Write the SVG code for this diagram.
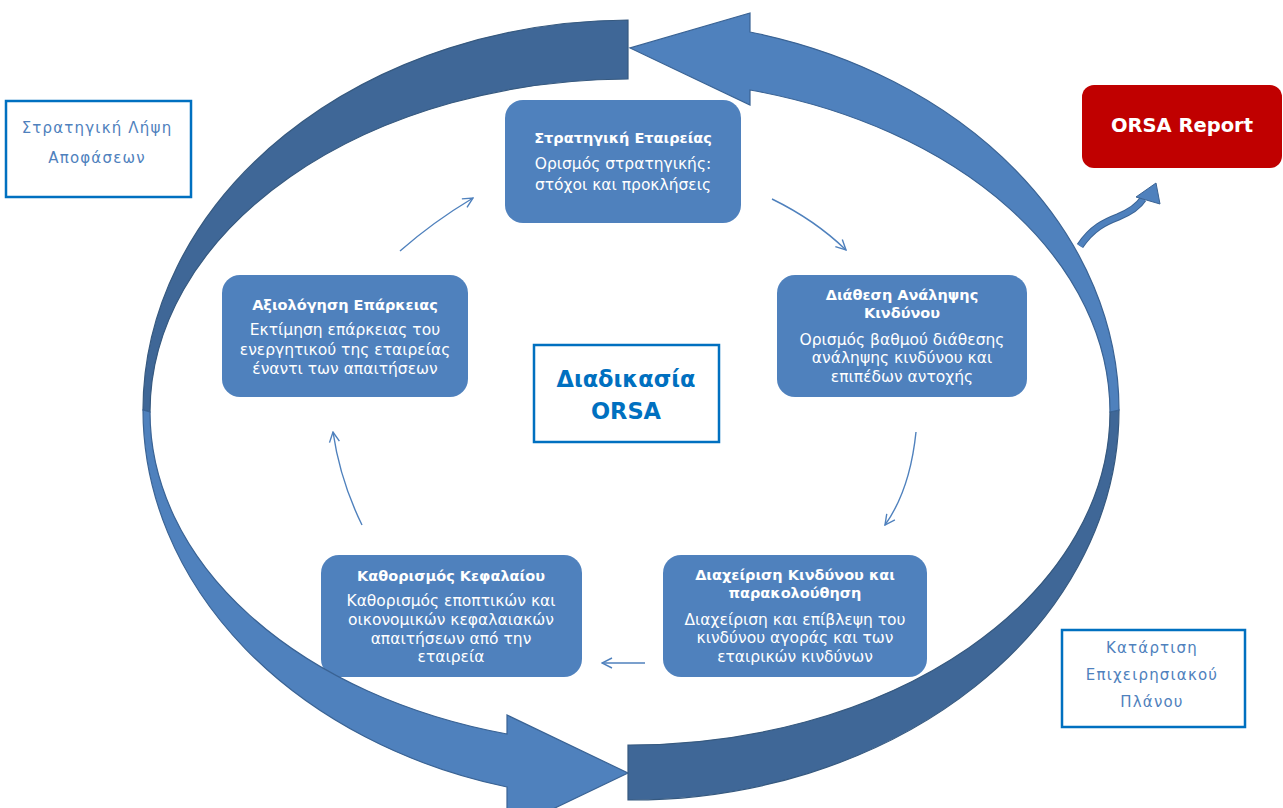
<svg xmlns="http://www.w3.org/2000/svg" width="1283" height="808" viewBox="0 0 1283 808">
<style>
.node{fill:#4f81bd;}
.t{font-family:"DejaVu Sans","Liberation Sans",sans-serif;fill:#ffffff;text-anchor:middle;}
.tb{font-size:14.5px;font-weight:bold;}
.tr{font-size:15.5px;}
.side{fill:#ffffff;stroke:#0070c0;stroke-width:2.5;}
.st{font-family:"DejaVu Sans","Liberation Sans",sans-serif;fill:#4f81bd;text-anchor:middle;font-size:15px;letter-spacing:1.2px;}
.conn{fill:none;stroke:#4f81bd;stroke-width:1.4;}
.light{fill:#4f81bd;stroke:#3a6394;stroke-width:1.2;}
.dark{fill:#3f6797;stroke:#36597f;stroke-width:1.2;}
</style>
<defs>
<marker id="ah" viewBox="0 0 12 12" refX="11" refY="6" markerWidth="12" markerHeight="12" markerUnits="userSpaceOnUse" orient="auto">
<path d="M1,1 L11,6 L1,11" fill="none" stroke="#4f81bd" stroke-width="1.4"/>
</marker>
</defs>
<rect width="1283" height="808" fill="#ffffff"/>

<g id="node-strategy">
<rect class="node" x="505" y="100" width="236" height="123" rx="18"/>
<text class="t tb" x="623" y="143">Στρατηγική Εταιρείας</text>
<text class="t tr" x="623" y="169">Ορισμός στρατηγικής:</text>
<text class="t tr" x="623" y="190">στόχοι και προκλήσεις</text>
</g>
<g id="node-appetite">
<rect class="node" x="777" y="275" width="250" height="122" rx="18"/>
<text class="t tb" x="902" y="300">Διάθεση Ανάληψης</text>
<text class="t tb" x="902" y="318">Κινδύνου</text>
<text class="t tr" x="902" y="345">Ορισμός βαθμού διάθεσης</text>
<text class="t tr" x="902" y="363">ανάληψης κινδύνου και</text>
<text class="t tr" x="902" y="382">επιπέδων αντοχής</text>
</g>
<g id="node-riskmgmt">
<rect class="node" x="663" y="555" width="264" height="122" rx="18"/>
<text class="t tb" x="795" y="580">Διαχείριση Κινδύνου και</text>
<text class="t tb" x="795" y="598">παρακολούθηση</text>
<text class="t tr" x="795" y="625">Διαχείριση και επίβλεψη του</text>
<text class="t tr" x="795" y="643">κινδύνου αγοράς και των</text>
<text class="t tr" x="795" y="662">εταιρικών κινδύνων</text>
</g>
<g id="node-capital">
<rect class="node" x="321" y="555" width="261" height="122" rx="18"/>
<text class="t tb" x="451" y="581">Καθορισμός Κεφαλαίου</text>
<text class="t tr" x="451" y="606">Καθορισμός εποπτικών και</text>
<text class="t tr" x="451" y="625">οικονομικών κεφαλαιακών</text>
<text class="t tr" x="451" y="644">απαιτήσεων από την</text>
<text class="t tr" x="451" y="662">εταιρεία</text>
</g>
<g id="node-adequacy">
<rect class="node" x="222" y="275" width="246" height="122" rx="18"/>
<text class="t tb" x="345" y="310">Αξιολόγηση Επάρκειας</text>
<text class="t tr" x="345" y="335">Εκτίμηση επάρκειας του</text>
<text class="t tr" x="345" y="355">ενεργητικού της εταιρείας</text>
<text class="t tr" x="345" y="374">έναντι των απαιτήσεων</text>
</g>

<g id="cycle">
<path class="dark" d="M628,20 A488 390 0 0 0 143,410 L150,412 A480 333 0 0 1 628,79 Z"/>
<path class="light" d="M143,410 A488 390 0 0 0 507,787 L507,831 L628,773 L507,715 L507,734 A480 333 0 0 1 150,412 Z"/>
<path class="dark" d="M628,800 A488 390 0 0 0 1119,410 L1110,412 A480 333 0 0 1 628,745 Z"/>
<path class="light" d="M1119,410 A488 390 0 0 0 750,32 L750,13 L630,48 L750,105 L750,90 A480 333 0 0 1 1110,412 Z"/>
</g>

<g id="connectors">
<path class="conn" d="M400,251 Q433,222 473,198" marker-end="url(#ah)"/>
<path class="conn" d="M772,199 Q815,220 846,250" marker-end="url(#ah)"/>
<path class="conn" d="M916,432 Q910,490 885,525" marker-end="url(#ah)"/>
<path class="conn" d="M645,663 L602,663" marker-end="url(#ah)"/>
<path class="conn" d="M362,525 Q340,480 333,432" marker-end="url(#ah)"/>
<path d="M1080,246 C1092,228 1105,222 1118,217 C1130,212 1138,207 1143,199" fill="none" stroke="#3a6394" stroke-width="7.5"/>
<path d="M1080,246 C1092,228 1105,222 1118,217 C1130,212 1138,207 1143,199" fill="none" stroke="#4f81bd" stroke-width="5.5"/>
<path d="M1136,197 L1156,183 L1160,204 Z" fill="#4f81bd" stroke="#3a6394" stroke-width="1"/>
</g>

<g id="node-orsa-center">
<rect class="side" x="534" y="345" width="185" height="97"/>
<text x="626" y="387" font-family="DejaVu Sans, Liberation Sans, sans-serif" font-size="22.5" font-weight="bold" fill="#0070c0" text-anchor="middle">Διαδικασία</text>
<text x="626" y="419" font-family="DejaVu Sans, Liberation Sans, sans-serif" font-size="22.5" font-weight="bold" fill="#0070c0" text-anchor="middle">ORSA</text>
</g>
<g id="node-decision">
<rect class="side" x="6" y="101" width="185" height="96"/>
<text class="st" x="97" y="133">Στρατηγική Λήψη</text>
<text class="st" x="97" y="163">Αποφάσεων</text>
</g>
<g id="node-plan">
<rect class="side" x="1062" y="630" width="183" height="97"/>
<text class="st" x="1152" y="653">Κατάρτιση</text>
<text class="st" x="1152" y="680">Επιχειρησιακού</text>
<text class="st" x="1152" y="707">Πλάνου</text>
</g>
<g id="node-report">
<rect x="1082" y="85" width="200" height="83" rx="12" fill="#c00000"/>
<text x="1182" y="132" font-family="DejaVu Sans, Liberation Sans, sans-serif" font-size="19.5" font-weight="bold" fill="#ffffff" text-anchor="middle">ORSA Report</text>
</g>
</svg>
